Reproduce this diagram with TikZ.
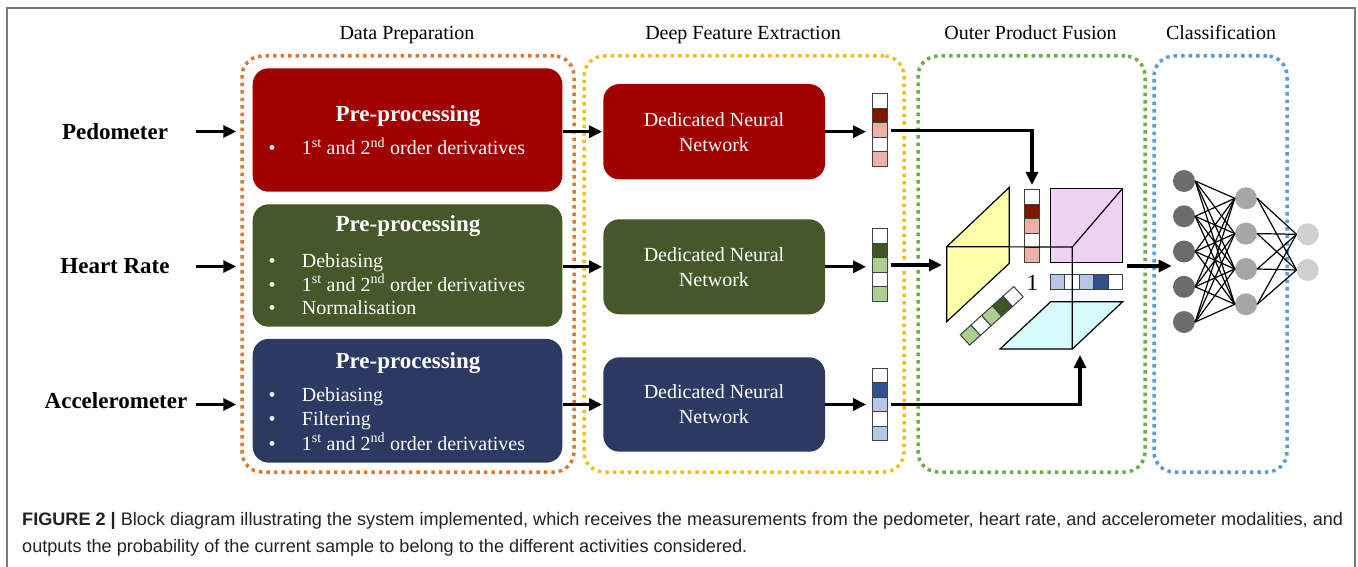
\documentclass[tikz,border=0pt]{standalone}
\usepackage{fontspec}
\setmainfont{Liberation Serif}
\newfontfamily\capfont{Liberation Sans}
\usetikzlibrary{arrows.meta,calc}
\definecolor{cOrange}{RGB}{217,122,50}
\definecolor{cGold}{RGB}{242,190,30}
\definecolor{cGreenG}{RGB}{112,173,71}
\definecolor{cBlueG}{RGB}{91,155,213}
\definecolor{bRed}{RGB}{160,0,0}
\definecolor{bGreen}{RGB}{70,88,42}
\definecolor{bBlue}{RGB}{44,58,99}
\definecolor{vR1}{RGB}{128,21,0}
\definecolor{vR2}{RGB}{238,176,162}
\definecolor{vG1}{RGB}{62,85,38}
\definecolor{vG2}{RGB}{169,208,142}
\definecolor{vB1}{RGB}{47,82,143}
\definecolor{vB2}{RGB}{180,199,231}
\definecolor{cYel}{RGB}{255,255,170}
\definecolor{cPink}{RGB}{240,210,245}
\definecolor{cCyan}{RGB}{215,250,250}
\definecolor{nn1}{RGB}{108,108,108}
\definecolor{nn2}{RGB}{166,166,166}
\definecolor{nn3}{RGB}{208,208,208}
\definecolor{frameC}{RGB}{120,120,120}
\definecolor{capC}{RGB}{35,35,35}
\begin{document}
\begin{tikzpicture}[x=1pt,y=-1pt,
  grpbox/.style={line width=3.5pt, dash pattern=on 3.5pt off 4pt, rounded corners=20pt, inner sep=0pt},
  ttl/.style={font=\fontsize{20}{24}\selectfont, inner sep=0pt, anchor=base},
  inlbl/.style={font=\fontsize{23}{27}\selectfont\bfseries, inner sep=0pt, anchor=base},
  ppbox/.style={rounded corners=16pt, inner sep=0pt, minimum width=309.6pt},
  dnnbox/.style={rounded corners=16pt, inner sep=0pt, minimum width=221.7pt},
  wtxt/.style={text=white, font=\fontsize{20}{24}\selectfont, inner sep=0pt, anchor=base},
  wbold/.style={text=white, font=\fontsize{23}{27}\selectfont\bfseries, inner sep=0pt, anchor=base},
  arr/.style={line width=3.2pt, -{Triangle[length=13pt,width=12pt]}},
  vecbox/.style={draw=none, inner sep=0pt, minimum width=15pt, minimum height=72.5pt},
  cell/.style={draw=black!75, line width=1pt},
  cubeln/.style={draw=black, line width=1.2pt},
  neuron/.style={circle, inner sep=0pt, minimum size=22pt},
  nnedge/.style={line width=1.2pt, black},
  capstyle/.style={font=\capfont\fontsize{18.1}{21}\selectfont, text=capC, inner sep=0pt, anchor=base west}
]
\useasboundingbox (0,0) rectangle (1358,567);
\fill[white] (0,0) rectangle (1358,567);
\draw[frameC, line width=2pt] (7,567) -- (7,8) -- (1355,8) -- (1355,567);

% group boxes
\node[grpbox, draw=cOrange, minimum width=332pt, minimum height=416pt] (gprep) at (408,264) {};
\node[grpbox, draw=cGold, minimum width=320pt, minimum height=416pt] (gdeep) at (744,264) {};
\node[grpbox, draw=cGreenG, minimum width=227pt, minimum height=416pt] (gfuse) at (1031.5,264) {};
\node[grpbox, draw=cBlueG, minimum width=133pt, minimum height=416pt] (gcls) at (1220.5,264) {};
\node[ttl] (tprep) at (407,39.5) {Data Preparation};
\node[ttl] (tdeep) at (743,39.5) {Deep Feature Extraction};
\node[ttl] (tfuse) at (1030.5,39.5) {Outer Product Fusion};
\node[ttl] (tcls) at (1221,39.5) {Classification};

% inputs
\node[inlbl] (ped) at (115,139.3) {Pedometer};
\node[inlbl] (hr) at (115,273.3) {Heart Rate};
\node[inlbl] (acc) at (116,408.3) {Accelerometer};
\coordinate (in1) at (196,131.5);
\coordinate (in2) at (196,266.5);
\coordinate (in3) at (196,404.5);

% pre-processing boxes
\node[ppbox, fill=bRed, minimum height=123.4pt] (pp1) at (407.5,130) {};
\node[ppbox, fill=bGreen, minimum height=122.4pt] (pp2) at (407.5,265.5) {};
\node[ppbox, fill=bBlue, minimum height=123.7pt] (pp3) at (407.5,400.8) {};

\node[wbold] (pt1) at (408,121.7) {Pre-processing};
\node[wtxt] (b11) at (272,155) {•};
\node[wtxt, anchor=base west] (l11) at (301.7,155) {1\textsuperscript{st} and 2\textsuperscript{nd} order derivatives};

\node[wbold] (pt2) at (408,231.7) {Pre-processing};
\node[wtxt] (b21) at (272,267.7) {•};
\node[wtxt, anchor=base west] (l21) at (301.7,267.7) {Debiasing};
\node[wtxt] (b22) at (272,291) {•};
\node[wtxt, anchor=base west] (l22) at (301.7,291) {1\textsuperscript{st} and 2\textsuperscript{nd} order derivatives};
\node[wtxt] (b23) at (272,314.3) {•};
\node[wtxt, anchor=base west] (l23) at (301.7,314.3) {Normalisation};

\node[wbold] (pt3) at (408,368.3) {Pre-processing};
\node[wtxt] (b31) at (272,401) {•};
\node[wtxt, anchor=base west] (l31) at (301.7,401) {Debiasing};
\node[wtxt] (b32) at (272,425) {•};
\node[wtxt, anchor=base west] (l32) at (301.7,425) {Filtering};
\node[wtxt] (b33) at (272,450) {•};
\node[wtxt, anchor=base west] (l33) at (301.7,450) {1\textsuperscript{st} and 2\textsuperscript{nd} order derivatives};

% DNN boxes
\node[dnnbox, fill=bRed, minimum height=95.3pt] (dnn1) at (714.2,131.7) {};
\node[dnnbox, fill=bGreen, minimum height=95pt] (dnn2) at (714.2,266.8) {};
\node[dnnbox, fill=bBlue, minimum height=94.4pt] (dnn3) at (714.2,404.5) {};
\node[wtxt] (d1a) at (714,126.7) {Dedicated Neural};
\node[wtxt] (d1b) at (714,151.7) {Network};
\node[wtxt] (d2a) at (714,261.7) {Dedicated Neural};
\node[wtxt] (d2b) at (714,286.7) {Network};
\node[wtxt] (d3a) at (714,398.3) {Dedicated Neural};
\node[wtxt] (d3b) at (714,423.3) {Network};

% feature vectors
\node[vecbox] (v1) at (879.8,130.4) {};
\node[vecbox] (v2) at (879.8,265) {};
\node[vecbox] (v3) at (879.8,404.7) {};
\foreach \c [count=\i from 0] in {white,vR1,vR2,white,vR2}
  \filldraw[cell, fill=\c] ($(v1.north west)+(0,\i*14.5)$) rectangle ++(15,14.5);
\foreach \c [count=\i from 0] in {white,vG1,vG2,white,vG2}
  \filldraw[cell, fill=\c] ($(v2.north west)+(0,\i*14.5)$) rectangle ++(15,14.5);
\foreach \c [count=\i from 0] in {white,vB1,vB2,white,vB2}
  \filldraw[cell, fill=\c] ($(v3.north west)+(0,\i*14.5)$) rectangle ++(15,14.5);

% arrows
\draw[arr, shorten >=4pt] (in1) -- (in1 -| gprep.west);
\draw[arr, shorten >=4pt] (in2) -- (in2 -| gprep.west);
\draw[arr, shorten >=4pt] (in3) -- (in3 -| gprep.west);
\draw[arr, shorten >=1pt] (pp1.east |- dnn1.west) -- (dnn1.west);
\draw[arr, shorten >=1pt] (pp2.east |- dnn2.west) -- (dnn2.west);
\draw[arr, shorten >=1pt] (pp3.east |- dnn3.west) -- (dnn3.west);
\draw[arr, shorten >=6pt] (dnn1.east) -- (dnn1.east -| v1.west);
\draw[arr, shorten >=6pt] (dnn2.east) -- (dnn2.east -| v2.west);
\draw[arr, shorten >=6pt] (dnn3.east) -- (dnn3.east -| v3.west);

% cube
\coordinate (rin) at (1032,185);
\coordinate (gin) at (942,266);
\coordinate (bin) at (1080,355);
\coordinate (cout) at (1126.7,266);
\filldraw[cubeln, fill=cYel] (946.7,246.7) -- (1009.3,187.3) -- (1009.3,263.3) -- (946.7,321.7) -- cycle;
\filldraw[cubeln, fill=cPink] (1050.7,188.3) rectangle (1122.7,262.3);
\draw[cubeln] (1122.7,188.3) -- (1072.3,247);
\filldraw[cubeln, fill=cCyan] (1000,349) -- (1072.3,349) -- (1122.7,301.7) -- (1050.7,301.7) -- cycle;
\node[inner sep=0pt, minimum width=14.3pt, minimum height=72.3pt] (cr) at (1032.2,226.2) {};
\foreach \c [count=\i from 0] in {white,vR1,vR2,white,vR2}
  \filldraw[cell, fill=\c] ($(cr.north west)+(0,\i*14.46)$) rectangle ++(14.3,14.46);
\node[inner sep=0pt, minimum width=72pt, minimum height=14.3pt] (cb) at (1086.7,282.2) {};
\foreach \c [count=\i from 0] in {vB2,white,vB2,vB1,white}
  \filldraw[cell, fill=\c] ($(cb.north west)+(\i*14.4,0)$) rectangle ++(14.4,14.3);
\begin{scope}[shift={(991.7,315.8)}, rotate=42]
  \foreach \c [count=\i from 0] in {vG2,white,vG2,vG1,white}
    \filldraw[cell, fill=\c] (-36+\i*14.4,-7) rectangle ++(14.4,14);
\end{scope}
\draw[cubeln] (946.7,246.7) -- (1072.3,247) -- (1072.3,349);
\node[font=\fontsize{23}{27}\selectfont, inner sep=0pt, anchor=base] (one) at (1032.3,290) {1};

\draw[arr, shorten <=3pt] (v1.east) -| (rin);
\draw[arr, shorten <=3pt] (v2.east) -- (v2.east -| gin);
\draw[arr, shorten <=3pt] (v3.east) -| (bin);

% neural network
\foreach \y [count=\i] in {181,216.3,251.5,286.8,322}
  \node[neuron, fill=nn1] (a\i) at (1184,\y) {};
\foreach \y [count=\i] in {198.3,233.6,269,304.3}
  \node[neuron, fill=nn2] (b\i) at (1246,\y) {};
\foreach \y [count=\i] in {234.3,270}
  \node[neuron, fill=nn3] (c\i) at (1307.7,\y) {};
\foreach \i in {1,...,5}
  \foreach \j in {1,...,4}
    \draw[nnedge] (a\i.east) -- (b\j.west);
\foreach \i in {1,...,4}
  \foreach \j in {1,2}
    \draw[nnedge] (b\i.east) -- (c\j.west);
\coordinate (nnin) at (1171.7,266);
\draw[arr] (cout) -- (nnin);

% caption
\node[capstyle] (cap1) at (22,525) {\textbf{FIGURE 2 |} Block diagram illustrating the system implemented, which receives the measurements from the pedometer, heart rate, and accelerometer modalities, and};
\node[capstyle] (cap2) at (22,552.7) {outputs the probability of the current sample to belong to the different activities considered.};
\end{tikzpicture}
\end{document}
